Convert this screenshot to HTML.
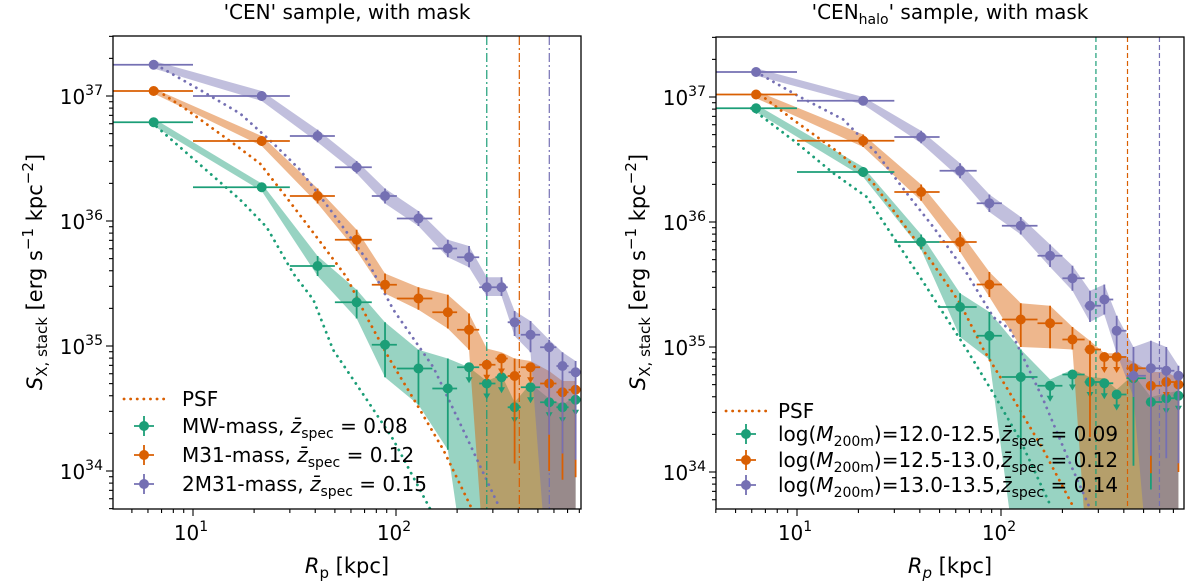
<!DOCTYPE html>
<html><head><meta charset="utf-8"><style>
html,body{margin:0;padding:0;background:#fff;}
svg{display:block;font-family:"DejaVu Sans","Liberation Sans",sans-serif;}
</style></head><body>
<svg id="fig" width="1200" height="585" viewBox="0 0 1200 585" xmlns="http://www.w3.org/2000/svg">
<defs>
<clipPath id="clipL"><rect x="113" y="36" width="468" height="473"/></clipPath>
<clipPath id="clipR"><rect x="716" y="37" width="468" height="472"/></clipPath>
</defs>
<g id="root"></g>
</svg>
<script>
// ---- shared radial bins (kpc) ----
const binEdges = [4, 10, 30, 50, 76, 101, 151, 200, 257, 309, 355, 412, 513, 617, 708, 830];
// ---- left panel data (log10 S_X) ----
const leftR = [6.4, 21.8, 41.1, 64.0, 88.3, 129, 180, 229, 280, 331, 384, 460, 568, 661, 767];
const leftGreenY = [36.79, 36.27, 35.64, 35.35, 35.01, 34.82, 34.66, 34.83, 34.70, 34.75, 34.51, 34.67, 34.55, 34.51, 34.57];
const leftGreenHi = [36.82, 36.30, 35.72, 35.45, 35.19, 34.97, 34.90, 34.83, 34.72, 34.77, 34.55, 34.70, 34.58, 34.53, 34.60];
const leftGreenLo = [36.76, 36.24, 35.56, 35.22, 34.75, 34.53, 34.17, 33.0, 33.0, 33.0, 33.0, 33.0, 33.0, 33.0, 33.0];
const leftGreenUL = [0,0,0,0,0,0,0,1,1,1,1,1,1,1,1];
const leftOrangeY = [37.04, 36.64, 36.20, 35.85, 35.49, 35.38, 35.27, 35.13, 34.85, 34.90, 34.76, 34.83, 34.70, 34.63, 34.65];
const leftOrangeHi = [37.06, 36.68, 36.26, 35.93, 35.58, 35.47, 35.41, 35.26, 34.98, 34.95, 34.90, 34.88, 34.80, 34.72, 34.72];
const leftOrangeLo = [37.02, 36.60, 36.14, 35.76, 35.42, 35.29, 35.14, 34.97, 33.0, 33.0, 33.0, 33.0, 33.0, 33.0, 33.0];
const leftOrangeUL = [0,0,0,0,0,0,0,0,1,1,0,1,0,0,0];
const leftPurpleY = [37.25, 37.00, 36.68, 36.43, 36.20, 36.02, 35.78, 35.71, 35.47, 35.47, 35.19, 35.09, 34.99, 34.84, 34.79];
const leftPurpleHi = [37.28, 37.04, 36.73, 36.48, 36.26, 36.08, 35.85, 35.80, 35.55, 35.55, 35.28, 35.20, 35.05, 34.95, 34.88];
const leftPurpleLo = [37.22, 36.96, 36.63, 36.38, 36.14, 35.96, 35.71, 35.63, 35.40, 35.40, 35.08, 34.95, 33.0, 33.0, 33.0];
const leftPurpleUL = [0,0,0,0,0,0,0,0,0,0,0,0,0,0,0];
const leftPsfGreenX = [0.796, 0.936, 1.084, 1.232, 1.363, 1.494, 1.593, 1.69, 1.856, 1.987, 2.085, 2.167];
const leftPsfGreenY = [36.79, 36.59, 36.38, 36.17, 35.95, 35.58, 35.37, 34.97, 34.57, 34.25, 33.95, 33.70];
const leftPsfOrangeX = [0.829, 0.969, 1.199, 1.33, 1.46, 1.61, 1.757, 1.856, 1.97, 2.10, 2.233, 2.373];
const leftPsfOrangeY = [37.04, 36.89, 36.62, 36.46, 36.19, 35.87, 35.55, 35.23, 34.89, 34.54, 34.17, 33.70];
const leftPsfPurpleX = [0.818, 1.034, 1.232, 1.396, 1.527, 1.69, 1.856, 1.987, 2.184, 2.348, 2.512];
const leftPsfPurpleY = [37.25, 37.05, 36.86, 36.62, 36.41, 36.06, 35.69, 35.29, 34.83, 34.27, 33.70];
const leftVlines = [280, 405, 569];
// ---- right panel data ----
const rightR = [6.3, 21.1, 40.6, 63.0, 87.7, 125, 174, 224, 273, 321, 369, 446, 543, 646, 741];
const rightGreenY = [36.91, 36.40, 35.84, 35.32, 35.09, 34.76, 34.69, 34.78, 34.72, 34.71, 34.62, 34.75, 34.56, 34.59, 34.61];
const rightGreenHi = [36.94, 36.44, 35.90, 35.43, 35.28, 34.98, 34.74, 34.82, 34.76, 34.75, 34.66, 34.78, 34.60, 34.63, 34.65];
const rightGreenLo = [36.88, 36.36, 35.78, 35.08, 34.90, 33.0, 33.0, 33.0, 33.0, 33.0, 33.0, 33.0, 33.0, 33.0, 33.0];
const rightGreenUL = [0,0,0,0,0,0,1,1,1,1,1,0,0,1,1];
const rightOrangeY = [37.02, 36.65, 36.24, 35.84, 35.50, 35.22, 35.19, 35.06, 34.98, 34.92, 34.92, 34.83, 34.69, 34.72, 34.70];
const rightOrangeHi = [37.05, 36.70, 36.30, 35.92, 35.60, 35.35, 35.33, 35.16, 35.05, 34.95, 34.95, 34.88, 34.80, 34.80, 34.75];
const rightOrangeLo = [36.99, 36.60, 36.17, 35.76, 35.40, 35.00, 34.99, 34.98, 33.0, 33.0, 33.0, 33.0, 33.0, 33.0, 33.0];
const rightOrangeUL = [0,0,0,0,0,0,0,0,0,1,1,1,0,1,0];
const rightPurpleY = [37.20, 36.97, 36.68, 36.41, 36.15, 35.97, 35.73, 35.55, 35.33, 35.38, 35.13, 34.77, 34.83, 34.81, 34.77];
const rightPurpleHi = [37.23, 37.00, 36.73, 36.47, 36.22, 36.04, 35.82, 35.65, 35.45, 35.50, 35.25, 35.00, 35.05, 35.00, 34.85];
const rightPurpleLo = [37.17, 36.94, 36.63, 36.35, 36.08, 35.90, 35.64, 35.45, 35.20, 35.26, 34.95, 34.60, 33.0, 33.0, 33.0];
const rightPurpleUL = [0,0,0,0,0,0,0,0,0,0,0,0,0,0,0];
const rightPsfGreenX = [0.775, 1.0, 1.178, 1.342, 1.472, 1.603, 1.717, 1.832, 1.962, 2.093, 2.24];
const rightPsfGreenY = [36.91, 36.63, 36.39, 36.20, 35.88, 35.56, 35.27, 34.98, 34.63, 34.26, 33.74];
const rightPsfOrangeX = [0.819, 0.98, 1.21, 1.374, 1.505, 1.652, 1.799, 1.914, 2.044, 2.207, 2.355];
const rightPsfOrangeY = [37.02, 36.82, 36.55, 36.31, 36.02, 35.70, 35.35, 34.98, 34.63, 34.18, 33.72];
const rightPsfPurpleX = [0.80, 1.015, 1.227, 1.39, 1.538, 1.668, 1.832, 1.962, 2.044, 2.207, 2.338, 2.436];
const rightPsfPurpleY = [37.20, 37.00, 36.82, 36.55, 36.23, 35.96, 35.59, 35.24, 35.14, 34.58, 34.07, 33.71];
const rightVlines = [292, 417, 598];

const GREEN = "#1b9e77", ORANGE = "#d95f02", PURPLE = "#7570b3";
const NS = "http://www.w3.org/2000/svg";
const root = document.getElementById("root");
function mk(tag, attrs, parent) {
  const e = document.createElementNS(NS, tag);
  for (const k in attrs) e.setAttribute(k, attrs[k]);
  (parent || root).appendChild(e);
  return e;
}

function drawPanel(P) {
  const X = r => P.x10 + (Math.log10(r) - 1) * P.dec;
  const XL = l => P.x10 + (l - 1) * P.dec;
  const Y = v => P.y37 + (37 - v) * 125;
  const g = mk("g", {});
  
  
  const plot = mk("g", {"clip-path": "url(#" + P.clip + ")"}, g);
  
  
  P.series.forEach(s => {
    let pts = [];
    P.R.forEach((r, i) => pts.push(X(r).toFixed(1) + "," + Y(s.hi[i]).toFixed(1)));
    for (let i = P.R.length - 1; i >= 0; i--) pts.push(X(P.R[i]).toFixed(1) + "," + Y(s.lo[i]).toFixed(1));
    const b = mk("polygon", {points: pts.join(" "), fill: s.color, "fill-opacity": 0.45, stroke: "none"}, plot);
    
    
  });
  P.series.forEach(s => {
    const d = s.psfX.map((l, i) => (i ? "L" : "M") + XL(l).toFixed(1) + "," + Y(s.psfY[i]).toFixed(1)).join(" ");
    const p = mk("path", {d: d, fill: "none", stroke: s.color, "stroke-width": 2.8, "stroke-dasharray": "0.1 6.5", "stroke-linecap": "round"}, plot);
    
    
  });
  P.vlines.forEach((v, i) => {
    const c = P.series[i].color;
    const l = mk("line", {x1: X(v), x2: X(v), y1: P.top, y2: P.bot, stroke: c, "stroke-width": 1.2, "stroke-dasharray": P.dash}, plot);
    
    
  });
  P.series.forEach(s => {
    P.R.forEach((r, i) => {
      const cx = X(r), cy = Y(s.y[i]);
      const eg = mk("g", {stroke: s.color, "stroke-width": 1.8, fill: s.color}, plot);
      
      
      mk("line", {x1: X(binEdges[i]), x2: X(binEdges[i + 1]), y1: cy, y2: cy}, eg);
      if (s.ul[i]) {
        mk("line", {x1: cx, x2: cx, y1: cy, y2: cy + 12}, eg);
        mk("polygon", {points: (cx-3.5)+","+(cy+10)+" "+(cx+3.5)+","+(cy+10)+" "+cx+","+(cy+16), stroke: "none"}, eg);
      } else {
        const lo = Math.max(s.lo[i], s.y[i] - 0.7);
        mk("line", {x1: cx, x2: cx, y1: Y(s.hi[i]), y2: Y(lo)}, eg);
      }
      mk("circle", {cx: cx, cy: cy, r: 5, stroke: "none"}, eg);
    });
  });
  const fr = mk("rect", {x: P.left, y: P.top, width: P.right - P.left, height: P.bot - P.top, fill: "none", stroke: "#000", "stroke-width": 1.3}, g);
  
  
  const xt = mk("g", {stroke: "#000", "stroke-width": 1.1}, g);
  
  
  for (let d = 0; d <= 2; d++) for (let m = 1; m <= 9; m++) {
    const x = X(m * Math.pow(10, d));
    if (x < P.left - 0.5 || x > P.right + 0.5) continue;
    const len = m === 1 ? 7 : 4;
    mk("line", {x1: x, x2: x, y1: P.bot, y2: P.bot + len}, xt);
  }
  [1, 2].forEach(d => {
    const t = mk("text", {x: X(Math.pow(10, d)) - 2, y: 540, "text-anchor": "middle", "font-size": 20}, g);
    
    
    t.innerHTML = '10<tspan dy="-9" font-size="14">' + d + '</tspan>';
  });
  const yt = mk("g", {stroke: "#000", "stroke-width": 1.1}, g);
  
  
  for (let d = 33; d <= 37; d++) for (let m = 1; m <= 9; m++) {
    const y = Y(d + Math.log10(m));
    if (y < P.top - 0.5 || y > P.bot + 0.5) continue;
    const len = m === 1 ? 7 : 4;
    mk("line", {x1: P.left - len, x2: P.left, y1: y, y2: y}, yt);
  }
  [34, 35, 36, 37].forEach(d => {
    const t = mk("text", {x: P.left - 10, y: Y(d) + 8, "text-anchor": "end", "font-size": 20}, g);
    
    
    t.innerHTML = '10<tspan dy="-9" font-size="14">' + d + '</tspan>';
  });
}

drawPanel({name: "left-panel", clip: "clipL", x10: 193, dec: 203, y37: 96, left: 113, right: 581, top: 36, bot: 509,
  R: leftR, vlines: leftVlines, dash: "9 3 2 3",
  series: [
    {key: "mw-mass", color: GREEN, y: leftGreenY, hi: leftGreenHi, lo: leftGreenLo, ul: leftGreenUL, psfX: leftPsfGreenX, psfY: leftPsfGreenY},
    {key: "m31-mass", color: ORANGE, y: leftOrangeY, hi: leftOrangeHi, lo: leftOrangeLo, ul: leftOrangeUL, psfX: leftPsfOrangeX, psfY: leftPsfOrangeY},
    {key: "2m31-mass", color: PURPLE, y: leftPurpleY, hi: leftPurpleHi, lo: leftPurpleLo, ul: leftPurpleUL, psfX: leftPsfPurpleX, psfY: leftPsfPurpleY}
  ]});
drawPanel({name: "right-panel", clip: "clipR", x10: 797, dec: 204, y37: 97, left: 716, right: 1184, top: 37, bot: 509,
  R: rightR, vlines: rightVlines, dash: "5 3",
  series: [
    {key: "halo-12-12.5", color: GREEN, y: rightGreenY, hi: rightGreenHi, lo: rightGreenLo, ul: rightGreenUL, psfX: rightPsfGreenX, psfY: rightPsfGreenY},
    {key: "halo-12.5-13", color: ORANGE, y: rightOrangeY, hi: rightOrangeHi, lo: rightOrangeLo, ul: rightOrangeUL, psfX: rightPsfOrangeX, psfY: rightPsfOrangeY},
    {key: "halo-13-13.5", color: PURPLE, y: rightPurpleY, hi: rightPurpleHi, lo: rightPurpleLo, ul: rightPurpleUL, psfX: rightPsfPurpleX, psfY: rightPsfPurpleY}
  ]});
</script>
<script>
(function(){
const fig = document.getElementById("fig");
fig.insertAdjacentHTML("beforeend", `
<text x="347" y="19" text-anchor="middle" font-size="20">'CEN' sample, with mask</text>
<text x="950" y="19" text-anchor="middle" font-size="20">'CEN<tspan dy="5" font-size="14">halo</tspan><tspan dy="-5">' sample, with mask</tspan></text>
<text x="347" y="573" text-anchor="middle" font-size="21"><tspan font-style="italic">R</tspan><tspan dy="5" font-size="15">p</tspan><tspan dy="-5"> [kpc]</tspan></text>
<text x="950" y="573" text-anchor="middle" font-size="21"><tspan font-style="italic">R</tspan><tspan dy="5" font-size="15" font-style="italic">p</tspan><tspan dy="-5"> [kpc]</tspan></text>
<text transform="translate(42,272) rotate(-90)" text-anchor="middle" font-size="21"><tspan font-style="italic">S</tspan><tspan dy="5" font-size="15">X, stack</tspan><tspan dy="-5"> [erg s</tspan><tspan dy="-9" font-size="15">−1</tspan><tspan dy="9"> kpc</tspan><tspan dy="-9" font-size="15">−2</tspan><tspan dy="9">]</tspan></text>
<text transform="translate(645,272) rotate(-90)" text-anchor="middle" font-size="21"><tspan font-style="italic">S</tspan><tspan dy="5" font-size="15">X, stack</tspan><tspan dy="-5"> [erg s</tspan><tspan dy="-9" font-size="15">−1</tspan><tspan dy="9"> kpc</tspan><tspan dy="-9" font-size="15">−2</tspan><tspan dy="9">]</tspan></text>
<g font-size="20">
 <line x1="124" x2="165" y1="399" y2="399" stroke="#d95f02" stroke-width="2.8" stroke-dasharray="0.1 6.5" stroke-linecap="round"/>
 <text x="182" y="406">PSF</text>
 <g stroke="#1b9e77" fill="#1b9e77" stroke-width="1.8"><line x1="134" x2="154" y1="426" y2="426"/><line x1="144" x2="144" y1="416" y2="436"/><circle cx="144" cy="426" r="5" stroke="none"/></g>
 <text x="182" y="433">MW-mass, <tspan font-style="italic">z̄</tspan><tspan dy="5" font-size="14">spec</tspan><tspan dy="-5"> = 0.08</tspan></text>
 <g stroke="#d95f02" fill="#d95f02" stroke-width="1.8"><line x1="134" x2="154" y1="455" y2="455"/><line x1="144" x2="144" y1="445" y2="465"/><circle cx="144" cy="455" r="5" stroke="none"/></g>
 <text x="182" y="462">M31-mass, <tspan font-style="italic">z̄</tspan><tspan dy="5" font-size="14">spec</tspan><tspan dy="-5"> = 0.12</tspan></text>
 <g stroke="#7570b3" fill="#7570b3" stroke-width="1.8"><line x1="134" x2="154" y1="484" y2="484"/><line x1="144" x2="144" y1="474" y2="494"/><circle cx="144" cy="484" r="5" stroke="none"/></g>
 <text x="182" y="491">2M31-mass, <tspan font-style="italic">z̄</tspan><tspan dy="5" font-size="14">spec</tspan><tspan dy="-5"> = 0.15</tspan></text>
</g>
<g font-size="20">
 <line x1="726" x2="767" y1="411" y2="411" stroke="#d95f02" stroke-width="2.8" stroke-dasharray="0.1 6.5" stroke-linecap="round"/>
 <text x="778" y="418">PSF</text>
 <g stroke="#1b9e77" fill="#1b9e77" stroke-width="1.8"><line x1="736" x2="756" y1="434" y2="434"/><line x1="746" x2="746" y1="424" y2="444"/><circle cx="746" cy="434" r="5" stroke="none"/></g>
 <text x="778" y="441">log(<tspan font-style="italic">M</tspan><tspan dy="5" font-size="14">200m</tspan><tspan dy="-5">)=12.0-12.5,</tspan><tspan font-style="italic">z̄</tspan><tspan dy="5" font-size="14">spec</tspan><tspan dy="-5"> = 0.09</tspan></text>
 <g stroke="#d95f02" fill="#d95f02" stroke-width="1.8"><line x1="736" x2="756" y1="460" y2="460"/><line x1="746" x2="746" y1="450" y2="470"/><circle cx="746" cy="460" r="5" stroke="none"/></g>
 <text x="778" y="467">log(<tspan font-style="italic">M</tspan><tspan dy="5" font-size="14">200m</tspan><tspan dy="-5">)=12.5-13.0,</tspan><tspan font-style="italic">z̄</tspan><tspan dy="5" font-size="14">spec</tspan><tspan dy="-5"> = 0.12</tspan></text>
 <g stroke="#7570b3" fill="#7570b3" stroke-width="1.8"><line x1="736" x2="756" y1="485" y2="485"/><line x1="746" x2="746" y1="475" y2="495"/><circle cx="746" cy="485" r="5" stroke="none"/></g>
 <text x="778" y="492">log(<tspan font-style="italic">M</tspan><tspan dy="5" font-size="14">200m</tspan><tspan dy="-5">)=13.0-13.5,</tspan><tspan font-style="italic">z̄</tspan><tspan dy="5" font-size="14">spec</tspan><tspan dy="-5"> = 0.14</tspan></text>
</g>`);
})();
</script>
</body></html>
